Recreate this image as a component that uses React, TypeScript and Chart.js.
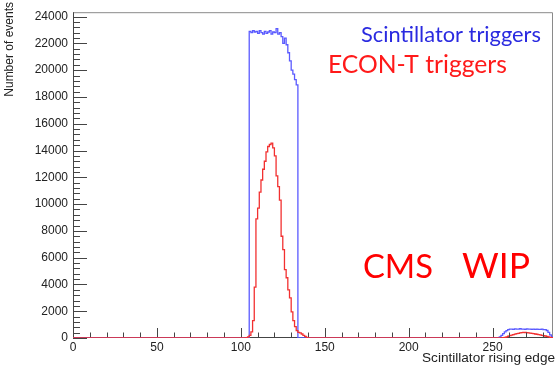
import React, { useEffect, useRef } from "react";
import { Chart, registerables } from "chart.js";

Chart.register(...registerables);

// ---- axis ranges / ticks ----
const xMin = 0;
const xMax = 286;
const yMin = 0;
const yMax = 24330;
const xMajorStep = 50;
const xMinorStep = 10;
const yMajorStep = 2000;
const yMinorStep = 400;

// ---- Scintillator triggers (blue), unit-width bins starting at given edge ----
const scintMainStart = 105;
const scintMainCounts = [
  22900, 22800, 22950, 22850, 22900, 22750, 22950, 22800, 22700, 22900,
  22750, 22850, 22950, 22700, 22850, 22800, 23100, 22700, 22800, 22500,
  22000, 22400, 21900, 21300, 20700, 20000, 19700, 19300, 18900,
];
const scintTailStart = 254;
const scintTailCounts = [
  80, 200, 330, 450, 550, 620, 660, 670, 650, 680, 660, 670, 690, 660, 670,
  650, 680, 660, 670, 650, 660, 640, 660, 650, 640, 660, 630, 620, 560, 420,
  230, 80,
];

// ---- ECON-T triggers (red) ----
const econMainStart = 103;
const econMainCounts = [
  30, 80, 200, 450, 1300, 3800, 8900, 9700, 10900, 11800, 12600, 13200, 13900,
  14300, 14450, 14550, 14200, 13600, 12100, 11300, 10300, 7600, 6600, 5100,
  4500, 3600, 3000, 1950, 1300, 850, 550, 420, 380, 300, 200, 120, 50,
];
const econTailStart = 256;
const econTailCounts = [
  20, 50, 90, 130, 170, 210, 250, 290, 320, 350, 380, 400, 420, 410, 400, 390,
  370, 350, 330, 300, 280, 250, 230, 200, 180, 150, 120, 90, 50, 20,
];

// ---- texts ----
const xTitle = "Scintillator rising edge";
const yTitle = "Number of events";
const legendScint = "Scintillator triggers";
const legendEcon = "ECON-T triggers";
const markLeft = "CMS";
const markRight = "WIP";

function buildHist(segments: [number, number[]][]) {
  const pts: { x: number; y: number }[] = [];
  for (let e = xMin; e < xMax; e++) {
    let v = 0;
    for (const [s, c] of segments) {
      if (e >= s && e < s + c.length) v = c[e - s];
    }
    pts.push({ x: e, y: v });
  }
  pts.push({ x: xMax, y: 0 });
  return pts;
}

function majorTicks(min: number, max: number, step: number) {
  const out: { value: number }[] = [];
  for (let v = Math.ceil(min / step) * step; v <= max; v += step) out.push({ value: v });
  return out;
}

function fitFont(ctx: CanvasRenderingContext2D, text: string, family: string, target: number) {
  ctx.font = `40px ${family}`;
  const w = ctx.measureText(text).width;
  return (40 * target) / w;
}

const decorPlugin = {
  id: "decor",
  beforeDatasetsDraw(chart: any) {
    const { ctx, chartArea } = chart;
    const { left, right, top, bottom } = chartArea;
    ctx.save();
    ctx.lineWidth = 1;
    ctx.strokeStyle = "#8a8a8a";
    ctx.beginPath();
    ctx.moveTo(left + 0.5, top + 0.5);
    ctx.lineTo(right - 0.5, top + 0.5);
    ctx.lineTo(right - 0.5, bottom);
    ctx.stroke();
    ctx.strokeStyle = "#444";
    ctx.beginPath();
    ctx.moveTo(left + 0.5, top);
    ctx.lineTo(left + 0.5, bottom - 0.5);
    ctx.lineTo(right, bottom - 0.5);
    ctx.stroke();
    ctx.restore();
  },
  afterDatasetsDraw(chart: any) {
    const { ctx, chartArea, scales } = chart;
    const { left, bottom } = chartArea;
    const xs = scales.x;
    const ys = scales.y;
    ctx.save();
    ctx.lineWidth = 1;
    // y ticks
    ctx.strokeStyle = "#444";
    ctx.beginPath();
    for (let v = yMin; v <= yMax; v += yMinorStep) {
      const y = Math.round(ys.getPixelForValue(v)) + 0.5;
      const len = v % yMajorStep === 0 ? 14 : 7;
      ctx.moveTo(left, y);
      ctx.lineTo(left + len, y);
    }
    // x ticks
    for (let v = xMin; v <= xMax; v += xMinorStep) {
      const x = Math.round(xs.getPixelForValue(v)) + 0.5;
      const len = v % xMajorStep === 0 ? 9 : 4.5;
      ctx.moveTo(x, bottom - 1);
      ctx.lineTo(x, bottom - 1 - len);
    }
    ctx.stroke();

    // axis titles
    ctx.fillStyle = "#222";
    ctx.font = "12px 'Liberation Sans', Arial, sans-serif";
    ctx.save();
    ctx.translate(13, 2);
    ctx.rotate(-Math.PI / 2);
    ctx.textAlign = "right";
    ctx.textBaseline = "alphabetic";
    ctx.fillText(yTitle, 0, 0);
    ctx.restore();

    ctx.font = "13.6px 'Liberation Sans', Arial, sans-serif";
    ctx.textAlign = "right";
    ctx.textBaseline = "alphabetic";
    ctx.fillText(xTitle, 555, 362);

    // legend texts
    ctx.textAlign = "left";
    const fam = "Lato, 'Open Sans', sans-serif";
    const s1 = fitFont(ctx, legendScint, fam, 180);
    ctx.font = `${s1}px ${fam}`;
    ctx.fillStyle = "#2a2ae0";
    ctx.fillText(legendScint, 361, 41.5);
    const s2 = fitFont(ctx, legendEcon, fam, 179);
    ctx.font = `${s2}px ${fam}`;
    ctx.fillStyle = "#ff1a1a";
    ctx.fillText(legendEcon, 328, 72.5);

    // CMS WIP
    ctx.fillStyle = "#ff0000";
    const s3 = fitFont(ctx, markLeft, fam, 70);
    ctx.font = `${s3}px ${fam}`;
    ctx.textAlign = "left";
    ctx.fillText(markLeft, 363, 278);
    const s4 = fitFont(ctx, markRight, fam, 68);
    ctx.font = `${s4}px ${fam}`;
    ctx.textAlign = "right";
    ctx.fillText(markRight, 530, 278);
    ctx.restore();
  },
};

export default function App() {
  const ref = useRef<HTMLCanvasElement | null>(null);
  useEffect(() => {
    document.body.style.margin = "0";
    const canvas = ref.current!;
    const tickFont = { family: "'Liberation Sans', Arial, sans-serif", size: 12 };
    const chart = new Chart(canvas, {
      type: "line",
      data: {
        datasets: [
          {
            label: legendEcon,
            data: buildHist([
              [econMainStart, econMainCounts],
              [econTailStart, econTailCounts],
            ]),
            stepped: true,
            borderColor: "#f23030",
            borderWidth: 1.3,
            pointRadius: 0,
            fill: false,
          },
          {
            label: legendScint,
            data: buildHist([
              [scintMainStart, scintMainCounts],
              [scintTailStart, scintTailCounts],
            ]),
            stepped: true,
            borderColor: "#5a5aff",
            borderWidth: 1.3,
            pointRadius: 0,
            fill: false,
          },
        ],
      },
      options: {
        animation: false,
        responsive: false,
        devicePixelRatio: 1,
        layout: { padding: { top: 10, right: 3, left: 0, bottom: 0 } },
        plugins: { legend: { display: false }, tooltip: { enabled: false } },
        scales: {
          x: {
            type: "linear",
            min: xMin,
            max: xMax,
            grid: { display: false, drawTicks: false },
            border: { display: false },
            ticks: {
              autoSkip: false,
              maxRotation: 0,
              padding: 2,
              font: tickFont,
              color: "#222",
            },
            afterBuildTicks: (s: any) => {
              s.ticks = majorTicks(xMin, xMax, xMajorStep);
            },
            afterFit: (s: any) => {
              s.height = 30;
            },
          },
          y: {
            type: "linear",
            min: yMin,
            max: yMax,
            grid: { display: false, drawTicks: false },
            border: { display: false },
            ticks: {
              autoSkip: false,
              padding: 5,
              font: tickFont,
              color: "#222",
              callback: (v: any) => String(v),
            },
            afterBuildTicks: (s: any) => {
              s.ticks = majorTicks(yMin, yMax, yMajorStep);
            },
            afterFit: (s: any) => {
              s.width = 73;
            },
          },
        },
      },
      plugins: [decorPlugin],
    } as any);
    return () => chart.destroy();
  }, []);
  return (
    <div style={{ width: 556, height: 368, background: "#fff" }}>
      <canvas ref={ref} width={556} height={368} style={{ display: "block", width: 556, height: 368 }} />
    </div>
  );
}
